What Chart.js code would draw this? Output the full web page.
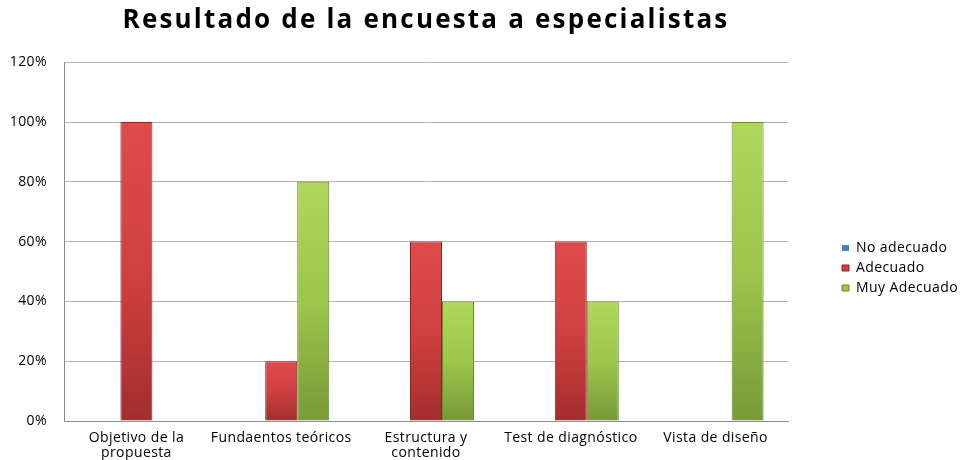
<!DOCTYPE html>
<html>
<head>
<meta charset="utf-8">
<script src="https://cdn.jsdelivr.net/npm/chart.js@4.4.1/dist/chart.umd.min.js"></script>
<style>
  html, body { margin: 0; padding: 0; background: #fff; }
  #wrap { width: 960px; height: 460px; }
</style>
</head>
<body>
<div id="wrap"><canvas id="chart" width="960" height="460"></canvas></div>
<script>
// Data
const categories = [['Objetivo de la', 'propuesta'], 'Fundaentos teóricos', ['Estructura y', 'contenido'], 'Test de diagnóstico', 'Vista de diseño'];
const seriesNames = ['No adecuado', 'Adecuado', 'Muy Adecuado'];
const noAdecuado = [0, 0, 0, 0, 0];
const adecuado = [100, 20, 60, 60, 0];
const muyAdecuado = [0, 80, 40, 40, 100];
const yMax = 120;
const yStep = 20;

const FONT = '"Open Sans", "DejaVu Sans", sans-serif';

// vertical shading per bar, like the old Office bars
function barFill(top, mid, bottom) {
    return function(ctx) {
        const chart = ctx.chart;
        const y = chart.scales && chart.scales.y;
        if (!chart.chartArea || !y || ctx.raw == null) return mid;
        const y0 = y.getPixelForValue(0);
        const y1 = y.getPixelForValue(ctx.raw);
        if (y0 === y1) return mid;
        const g = chart.ctx.createLinearGradient(0, y1, 0, y0);
        g.addColorStop(0, top);
        g.addColorStop(0.5, mid);
        g.addColorStop(1, bottom);
        return g;
    };
}

// legend sits well right of the plot and a bit below the middle,
// the text is drawn a little wider like the original picture
const layoutTweaks = {
    id: 'layoutTweaks',
    beforeLayout(chart) {
        const lg = chart.legend;
        if (lg && !lg._patched) {
            const fit = lg.fit;
            lg.fit = function() {
                fit.call(this);
                this.width = 172;
            };
            lg._patched = true;
        }
        const tb = chart.titleBlock;
        if (tb && !tb._patched) {
            const draw = tb.draw;
            tb.draw = function() {
                const c = this.ctx;
                const prev = c.letterSpacing;
                c.letterSpacing = '2.2px';
                draw.call(this);
                c.letterSpacing = prev;
            };
            tb._patched = true;
        }
    },
    afterLayout(chart) {
        const lg = chart.legend;
        lg.left += 48;
        lg.right += 48;
        lg.top += 38;
        lg.bottom += 38;
    },
    beforeDraw(chart) {
        chart.ctx.letterSpacing = '0.4px';
    }
};

const ctx = document.getElementById('chart').getContext('2d');
new Chart(ctx, {
    type: 'bar',
    data: {
        labels: categories,
        datasets: [
            {
                label: seriesNames[0],
                data: noAdecuado,
                backgroundColor: barFill('#6d9ad4', '#4f81bd', '#3a6496'),
                borderColor: '#3a6496',
                borderWidth: 0
            },
            {
                label: seriesNames[1],
                data: adecuado,
                backgroundColor: barFill('#e04b4b', '#d04040', '#a32e2e'),
                borderColor: '#8c2626',
                borderWidth: 1
            },
            {
                label: seriesNames[2],
                data: muyAdecuado,
                backgroundColor: barFill('#afd75b', '#9cc64c', '#789a38'),
                borderColor: '#6a8a30',
                borderWidth: 1
            }
        ]
    },
    plugins: [layoutTweaks],
    options: {
        responsive: false,
        animation: false,
        devicePixelRatio: 1,
        datasets: {
            bar: {
                categoryPercentage: 0.663,
                barPercentage: 1
            }
        },
        layout: {
            padding: { left: 8, right: 0, top: 0, bottom: 0 }
        },
        plugins: {
            title: {
                display: true,
                fullSize: false,
                text: 'Resultado de la encuesta a especialistas',
                color: '#000',
                font: { family: FONT, size: 26, weight: 'bold' },
                padding: { top: 5, bottom: 26 }
            },
            legend: {
                display: true,
                position: 'right',
                align: 'center',
                labels: {
                    color: '#000',
                    boxWidth: 7,
                    boxHeight: 6,
                    padding: 6,
                    font: { family: FONT, size: 14 }
                }
            },
            tooltip: { enabled: false }
        },
        scales: {
            x: {
                grid: { display: false, drawTicks: false },
                border: { display: true, color: '#8c8c8c' },
                ticks: {
                    color: '#000',
                    padding: 9,
                    maxRotation: 0,
                    autoSkip: false,
                    font: { family: FONT, size: 14, lineHeight: 1.1 }
                },
                afterFit: function(scale) { scale.height = 39; }
            },
            y: {
                min: 0,
                max: yMax,
                grid: { color: '#b4b4b4', drawTicks: false },
                border: { display: true, color: '#8c8c8c' },
                ticks: {
                    stepSize: yStep,
                    color: '#000',
                    padding: 17,
                    font: { family: FONT, size: 14 },
                    callback: function(value) { return value + '%'; }
                },
                afterFit: function(scale) { scale.width = 56; }
            }
        }
    }
});
</script>
</body>
</html>
